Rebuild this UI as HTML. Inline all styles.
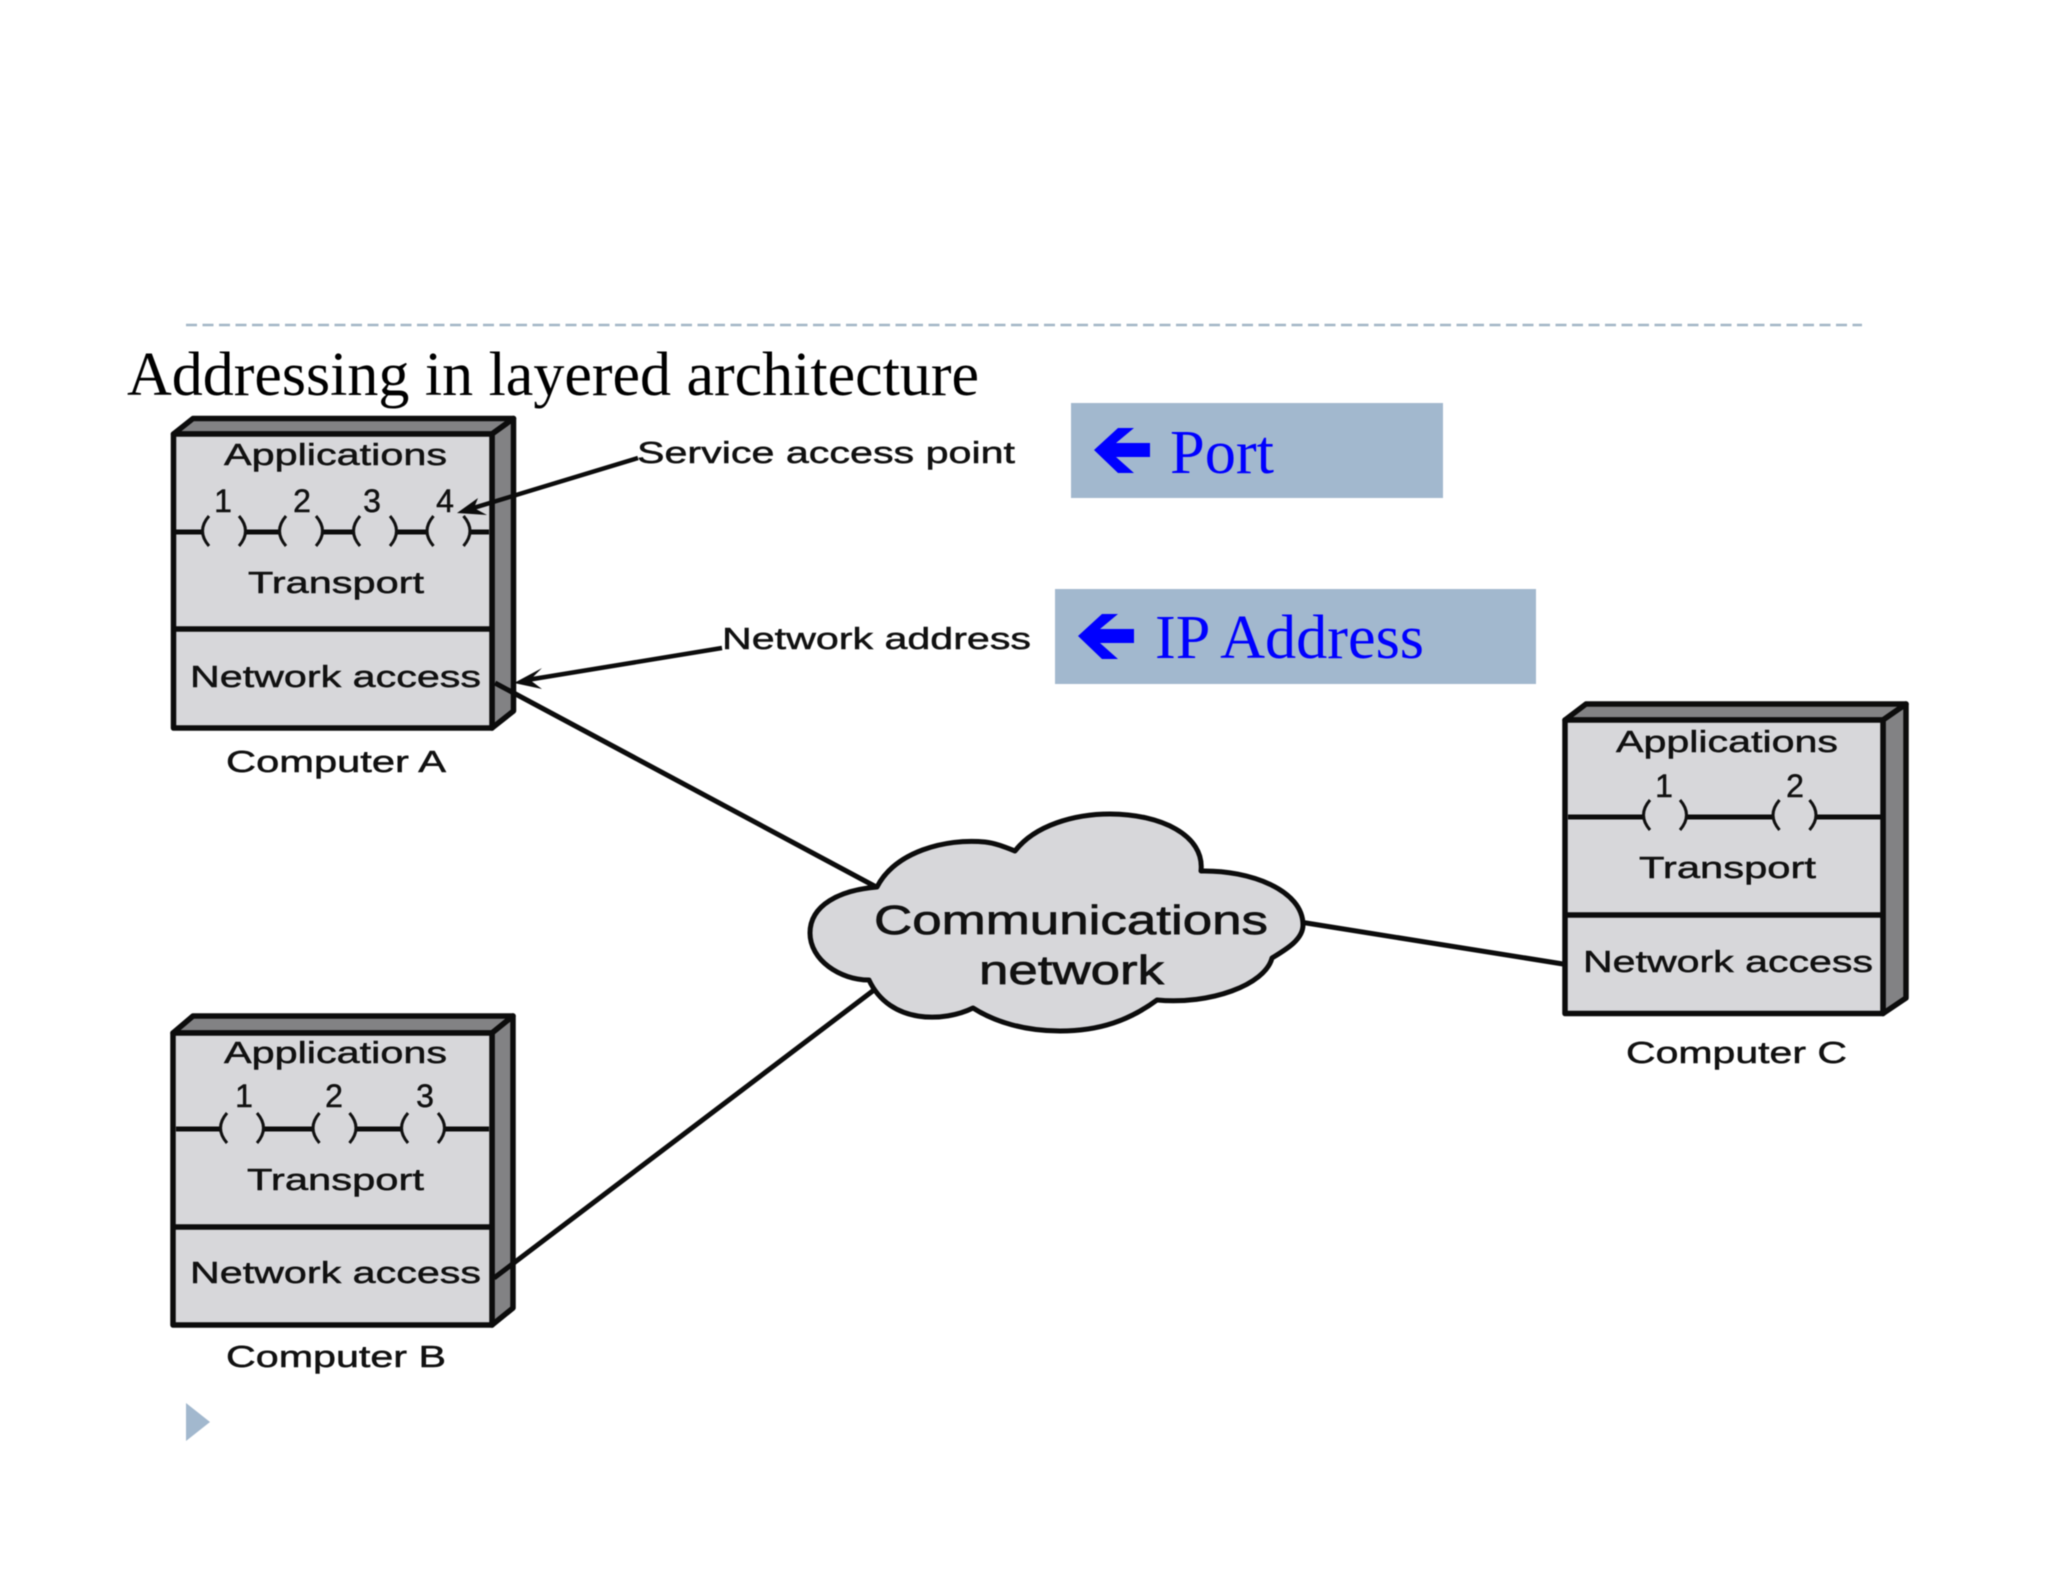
<!DOCTYPE html>
<html lang="en">
<head>
<meta charset="utf-8">
<title>Addressing in layered architecture</title>
<style>
html,body{margin:0;padding:0;background:#fff;width:2048px;height:1582px;overflow:hidden}
svg{display:block;filter:blur(0.6px)}
.s{font-family:"Liberation Sans",sans-serif;font-size:31px;fill:#111;stroke:#111;stroke-width:.5}
.n{font-family:"Liberation Sans",sans-serif;font-size:32px;fill:#111;stroke:#111;stroke-width:.5;text-anchor:middle}
.c{font-family:"Liberation Sans",sans-serif;font-size:41px;fill:#111;stroke:#111;stroke-width:.7}
.t{font-family:"Liberation Serif",serif;font-size:62px;fill:#000}
.b{font-family:"Liberation Serif",serif;font-size:62px;fill:#0000ff}
.front{fill:#d7d7da;stroke:#0c0c0c;stroke-width:5.5;stroke-linejoin:round}
.side{fill:#828284;stroke:#0c0c0c;stroke-width:5.5;stroke-linejoin:round}
.div{stroke:#0c0c0c;stroke-width:5.5;fill:none}
.pl{stroke:#0c0c0c;stroke-width:5;fill:none}
.par{stroke:#111;stroke-width:3;fill:none}
.wire{stroke:#0c0c0c;stroke-width:5;fill:none}
</style>
</head>
<body>
<svg xmlns="http://www.w3.org/2000/svg" width="2048" height="1582" viewBox="0 0 2048 1582">
<defs>
<g id="sock"><path class="par" d="M-15,-15 Q-28,0 -15,15"/><path class="par" d="M15,-15 Q28,0 15,15"/></g>
<polygon id="arr" fill="#0000ff" points="1094,450 1118,428 1134,428 1116,443 1150,443 1150,457 1116,457 1134,473 1118,473"/>
</defs>
<rect width="2048" height="1582" fill="#fff"/>

<line x1="186" y1="325" x2="1862" y2="325" stroke="#a3b6c6" stroke-width="2.5" stroke-dasharray="11 5.5"/>
<text class="t" x="127" y="395" textLength="852" lengthAdjust="spacingAndGlyphs">Addressing in layered architecture</text>

<!-- Blue labels -->
<rect x="1071" y="403" width="372" height="95" fill="#a2b8ce"/>
<rect x="1055" y="589" width="481" height="95" fill="#a2b8ce"/>
<use href="#arr"/>
<use href="#arr" x="-16" y="186"/>
<text class="b" x="1170" y="473" textLength="104" lengthAdjust="spacingAndGlyphs">Port</text>
<text class="b" x="1155" y="658" textLength="269" lengthAdjust="spacingAndGlyphs">IP Address</text>

<!-- Computer A -->
<polygon class="side" points="173.5,434 193,418.5 513.5,418.5 492,434"/>
<polygon class="side" points="492,434 513.5,418.5 513.5,711 492,728"/>
<rect class="front" x="173.5" y="434" width="318.5" height="294"/>
<line class="div" x1="173.5" y1="629" x2="492" y2="629"/>
<path class="pl" d="M176,532H203M245,532H280M322,532H354M396,532H428M469,532H489"/>
<use href="#sock" x="224" y="531"/><use href="#sock" x="301" y="531"/><use href="#sock" x="375" y="531"/><use href="#sock" x="448.5" y="531"/>
<text class="s" x="224" y="465" textLength="223" lengthAdjust="spacingAndGlyphs">Applications</text>
<text class="n" x="223" y="512">1</text><text class="n" x="302" y="512">2</text><text class="n" x="372" y="512">3</text><text class="n" x="445" y="512">4</text>
<text class="s" x="248" y="593" textLength="176" lengthAdjust="spacingAndGlyphs">Transport</text>
<text class="s" x="190" y="687" textLength="291" lengthAdjust="spacingAndGlyphs">Network access</text>
<text class="s" x="226" y="772" textLength="220" lengthAdjust="spacingAndGlyphs">Computer A</text>

<!-- Leaders -->
<line x1="638" y1="458" x2="470" y2="509" stroke="#0c0c0c" stroke-width="4.5"/>
<polygon fill="#0c0c0c" points="457,513 478,498 474,508 487,515"/>
<text class="s" x="637" y="463" textLength="378" lengthAdjust="spacingAndGlyphs">Service access point</text>
<line x1="722" y1="648" x2="527" y2="680" stroke="#0c0c0c" stroke-width="4.5"/>
<polygon fill="#0c0c0c" points="514,683 542,668 530,680 542,689"/>
<text class="s" x="722" y="649" textLength="309" lengthAdjust="spacingAndGlyphs">Network address</text>

<!-- Computer B -->
<polygon class="side" points="173,1033 193,1016 513,1016 492,1033"/>
<polygon class="side" points="492,1033 513,1016 513,1308 492,1325"/>
<rect class="front" x="173" y="1033" width="319" height="292"/>
<line class="div" x1="173" y1="1227" x2="492" y2="1227"/>
<path class="pl" d="M176,1129H221M263,1129H313M356,1129H401M445,1129H489"/>
<use href="#sock" x="242" y="1128"/><use href="#sock" x="334.5" y="1128"/><use href="#sock" x="423" y="1128"/>
<text class="s" x="224" y="1063" textLength="223" lengthAdjust="spacingAndGlyphs">Applications</text>
<text class="n" x="244" y="1107">1</text><text class="n" x="334" y="1107">2</text><text class="n" x="425" y="1107">3</text>
<text class="s" x="247" y="1190" textLength="177" lengthAdjust="spacingAndGlyphs">Transport</text>
<text class="s" x="190" y="1283" textLength="291" lengthAdjust="spacingAndGlyphs">Network access</text>
<text class="s" x="226" y="1367" textLength="220" lengthAdjust="spacingAndGlyphs">Computer B</text>

<!-- Computer C -->
<polygon class="side" points="1565,720 1586,704 1906,704 1883,720"/>
<polygon class="side" points="1883,720 1906,704 1906,998 1883,1013.5"/>
<rect class="front" x="1565" y="720" width="318" height="293.5"/>
<line class="div" x1="1565" y1="915" x2="1883" y2="915"/>
<path class="pl" d="M1568,817H1644M1687,817H1773M1817,817H1881"/>
<use href="#sock" x="1665" y="815"/><use href="#sock" x="1794.5" y="815"/>
<text class="s" x="1616" y="752" textLength="222" lengthAdjust="spacingAndGlyphs">Applications</text>
<text class="n" x="1664" y="797">1</text><text class="n" x="1795" y="797">2</text>
<text class="s" x="1639" y="878" textLength="177" lengthAdjust="spacingAndGlyphs">Transport</text>
<text class="s" x="1583" y="972" textLength="290" lengthAdjust="spacingAndGlyphs">Network access</text>
<text class="s" x="1626" y="1063" textLength="221" lengthAdjust="spacingAndGlyphs">Computer C</text>

<!-- Wires -->
<line class="wire" x1="495" y1="683" x2="880" y2="889"/>
<line class="wire" x1="494" y1="1278" x2="874" y2="990"/>
<line class="wire" x1="1300" y1="922" x2="1563" y2="964"/>

<!-- Cloud -->
<path d="M877,887 C895,852 945,838 985,842 C995,843 1005,847 1015,851 C1035,825 1075,814 1110,814 C1160,814 1205,835 1201,871 C1250,870 1303,890 1303,925 C1303,940 1285,950 1272,958 C1265,985 1210,1005 1157,1000 C1130,1020 1100,1031 1060,1031 C1025,1031 995,1022 973,1008 C945,1022 890,1025 869,980 C840,980 810,960 810,933 C810,905 840,890 877,887 Z" fill="#d7d7da" stroke="#0c0c0c" stroke-width="5" stroke-linejoin="round"/>
<text class="c" x="874" y="934" textLength="394" lengthAdjust="spacingAndGlyphs">Communications</text>
<text class="c" x="979" y="984" textLength="185" lengthAdjust="spacingAndGlyphs">network</text>

<!-- Bullet -->
<polygon points="186,1403 186,1441 210,1422" fill="#a2b8ce"/>
</svg>
</body>
</html>
